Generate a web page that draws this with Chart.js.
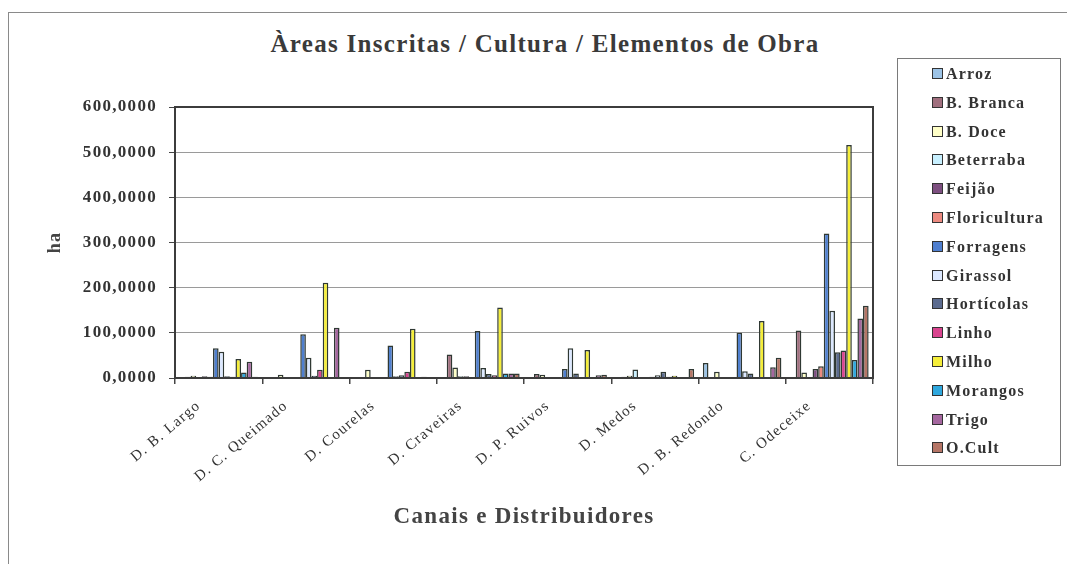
<!DOCTYPE html>
<html lang="pt">
  <head>
    <meta charset="UTF-8" />
    <title>Àreas Inscritas / Cultura / Elementos de Obra</title>
    <script src="https://cdn.jsdelivr.net/npm/chart.js"></script>
    <style>
      body { margin: 0; background: #fff; width: 1067px; height: 564px; overflow: hidden; position: relative; font-family: "Liberation Serif", serif; }
      #frame { position: absolute; left: 8px; top: 12px; width: 1100px; height: 600px; border-left: 1px solid #8a8a8a; border-top: 1px solid #8a8a8a; }
      #title { position: absolute; left: 0; top: 29px; width: 1090px; text-align: center; font-weight: bold; font-size: 25px; line-height: 30px; color: #3a3a3a; letter-spacing: 1.3px; }
      #wrap { position: absolute; left: 0; top: 0; width: 1067px; height: 564px; }
      #legend { position: absolute; left: 897px; top: 58px; width: 164px; height: 408px; border: 1px solid #7a7a7a; box-sizing: border-box; }
      .item { position: absolute; left: 34px; height: 20px; line-height: 20px; font-weight: bold; font-size: 16px; color: #333; letter-spacing: 1.2px; white-space: nowrap; }
      .sw { display: inline-block; width: 9px; height: 9px; border: 1.5px solid #333; margin-right: 3px; vertical-align: 0px; }
    </style>
  </head>
  <body>
    <div id="frame"></div>
    <div id="title">Àreas Inscritas / Cultura / Elementos de Obra</div>
    <div id="wrap"><canvas id="chart"></canvas></div>
    <div id="legend"></div>

    <script>
      // canais / distribuidores
      const categories = ["D. B. Largo", "D. C. Queimado", "D. Courelas", "D. Craveiras", "D. P. Ruivos", "D. Medos", "D. B. Redondo", "C. Odeceixe"];

      // area (ha) per cultura, one value per canal
      const arroz = [2, 1, 1, 1, 1, 2, 33, 0];
      const bBranca = [3, 1, 1, 52, 9, 3, 2, 105];
      const bDoce = [5, 7, 18, 23, 7, 5, 14, 12];
      const beterraba = [2, 1, 1, 4, 1, 19, 1, 2];
      const feijao = [4, 1, 2, 4, 1, 1, 1, 20];
      const floricultura = [3, 1, 2, 1, 1, 1, 1, 26];
      const forragens = [66, 97, 72, 104, 20, 3, 100, 320];
      const girassol = [58, 45, 4, 22, 66, 6, 15, 149];
      const horticolas = [4, 5, 6, 9, 10, 14, 10, 57];
      const linho = [3, 18, 14, 6, 2, 3, 1, 61];
      const milho = [42, 211, 109, 156, 62, 5, 126, 516];
      const morangos = [12, 2, 2, 10, 2, 1, 1, 40];
      const trigo = [36, 111, 3, 10, 6, 2, 24, 132];
      const oCult = [3, 2, 2, 10, 7, 20, 45, 160];

      const seriesNames = ["Arroz", "B. Branca", "B. Doce", "Beterraba", "Feijão", "Floricultura", "Forragens", "Girassol", "Hortícolas", "Linho", "Milho", "Morangos", "Trigo", "O.Cult"];
      const seriesValues = [arroz, bBranca, bDoce, beterraba, feijao, floricultura, forragens, girassol, horticolas, linho, milho, morangos, trigo, oCult];
      const seriesColors = ["#9cc3e6", "#a06f7e", "#ffffc8", "#c8f0ff", "#7d4f80", "#ec8a80", "#4f7fcf", "#dce8ff", "#5b6b8f", "#d9448f", "#f5ee3a", "#2fa8de", "#a5679f", "#b57566"];

      const yTickLabels = ["0,0000", "100,0000", "200,0000", "300,0000", "400,0000", "500,0000", "600,0000"];

      // legend box on the right
      const legendEl = document.getElementById("legend");
      seriesNames.forEach((name, i) => {
        const div = document.createElement("div");
        div.className = "item";
        div.style.top = 5 + i * 28.8 + "px";
        div.innerHTML = `<span class="sw" style="background:${seriesColors[i]}"></span>${name}`;
        legendEl.appendChild(div);
      });

      const framePlugin = {
        id: "frame",
        beforeDraw(chart) {
          chart.ctx.letterSpacing = "1.3px";
        },
        afterDraw(chart) {
          const { ctx, chartArea: a } = chart;
          ctx.save();
          ctx.strokeStyle = "#3c3c3c";
          ctx.lineWidth = 2;
          ctx.strokeRect(a.left, a.top, a.right - a.left, a.bottom - a.top);
          ctx.restore();
        },
      };

      new Chart(document.getElementById("chart"), {
        type: "bar",
        data: {
          labels: categories,
          datasets: seriesNames.map((name, i) => ({
            label: name,
            data: seriesValues[i],
            backgroundColor: seriesColors[i],
            borderColor: "#2f3833",
            borderWidth: 1.5,
            categoryPercentage: 0.9,
            barPercentage: 1,
          })),
        },
        options: {
          responsive: true,
          maintainAspectRatio: false,
          animation: false,
          layout: { padding: { left: 0, top: 107, right: 194, bottom: 0 } },
          plugins: { legend: { display: false }, title: { display: false }, tooltip: { enabled: false } },
          scales: {
            x: {
              afterFit(scale) { scale.height = 186; },
              grid: { offset: true, drawOnChartArea: false, tickLength: 6, tickColor: "#444", lineWidth: 1.5 },
              border: { display: false },
              ticks: {
                autoSkip: false,
                minRotation: 40,
                maxRotation: 40,
                labelOffset: -20,
                padding: 13,
                color: "#333",
                font: { family: "Liberation Serif", size: 15 },
              },
              title: {
                display: true,
                text: "Canais e Distribuidores",
                color: "#444",
                font: { family: "Liberation Serif", size: 23, weight: "bold" },
                padding: { top: 0, bottom: 33 },
              },
            },
            y: {
              min: 0,
              max: 600,
              afterFit(scale) { scale.width = 175; },
              grid: { color: "#9a9a9a", lineWidth: 1, tickLength: 6, tickColor: "#444" },
              border: { display: false },
              ticks: {
                stepSize: 100,
                padding: 12,
                color: "#333",
                font: { family: "Liberation Serif", size: 17, weight: "bold" },
                callback: (v, i) => yTickLabels[i],
              },
              title: {
                display: true,
                text: "ha",
                color: "#444",
                font: { family: "Liberation Serif", size: 18, weight: "bold" },
                padding: { top: 45, bottom: 0 },
              },
            },
          },
        },
        plugins: [framePlugin],
      });
    </script>
  </body>
</html>
